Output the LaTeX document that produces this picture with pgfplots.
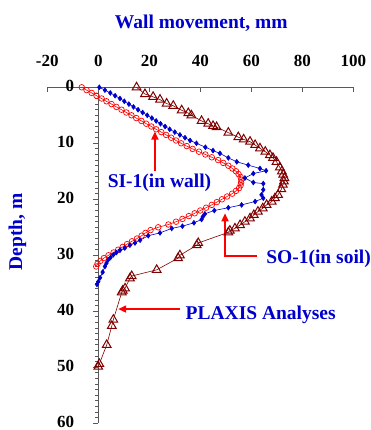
\documentclass[border=0pt]{standalone}
\usepackage{fontspec}
\setmainfont{Liberation Serif}
\usepackage{pgfplots}
\pgfplotsset{compat=1.18}
\usetikzlibrary{arrows.meta}
\definecolor{myblue}{RGB}{0,0,204}
\definecolor{mybrown}{RGB}{128,0,0}
\definecolor{myred}{RGB}{255,0,0}
\newcommand{\lab}{\fontsize{19.5bp}{20bp}\selectfont\bfseries}
\begin{document}
\begin{tikzpicture}
\begin{axis}[
  x=2.55bp, y=5.6bp, y dir=reverse,
  xmin=-20, xmax=100, ymin=0, ymax=60,
  axis x line=top, axis y line=middle,
  axis line style={-, line width=1bp, black!65},
  x axis line style={-}, y axis line style={-},
  xtick={-20,0,20,40,60,80,100}, ytick={0,10,20,30,40,50,60},
  minor y tick num=9,
  hide obscured x ticks=false, hide obscured y ticks=false,
  xtick align=inside, ytick align=outside,
  major tick length=5bp, minor tick length=3bp,
  tick style={black!65, line width=0.8bp},
  /pgf/number format/assume math mode=true,
  ticklabel style={font=\fontsize{17bp}{17bp}\selectfont\bfseries},
  xticklabel style={anchor=base, yshift=21bp},
  yticklabel style={anchor=east, inner sep=0pt, xshift=-19bp, yshift=1.5bp},
  clip=false,
]
\addplot[color=myred, line width=0.6bp, mark=o, mark size=2.8bp, mark options={line width=0.7bp}] table {
-6.5 0
-4.6 0.5
-2.6 1
-0.7 1.5
1.3 2
3.2 2.5
5.2 3
7.1 3.5
9.1 4
11 4.5
13 5
14.9 5.5
16.9 6
18.8 6.5
20.8 7
22.7 7.5
24.7 8
26.6 8.5
28.6 9
30.5 9.5
32.5 10
34.7 10.5
37 11
39.5 11.5
42 12
44.5 12.5
47 13
49 13.5
51 14
52.6 14.5
54 15
55 15.5
55.8 16
56.1 16.5
56 17
55.8 17.5
55.2 18
54 18.5
52.5 19
50.5 19.5
48.5 20
46.5 20.5
44.5 21
42.3 21.5
40 22
37.8 22.5
35.5 23
33 23.5
30.5 24
27.5 24.5
23.5 25
20.5 25.5
18.5 26
17 26.5
15.2 27
13.2 27.5
11.3 28
9.6 28.5
7.8 29
6 29.5
4 30
2.2 30.5
0.8 31
-0.3 31.5
-0.8 32
};
\addplot[color=myblue, line width=0.6bp, mark=diamond*, mark size=2.4bp] table {
0.4 0
2.6 0.5
4.7 1
6.6 1.5
8.5 2
10.2 2.5
12 3
13.8 3.5
15.6 4
17.4 4.5
19.2 5
21 5.5
22.7 6
24.4 6.5
26.2 7
28 7.5
30 8
32 8.5
34 9
36 9.5
38.5 10
42 10.7
45 11.3
47.7 11.8
51 12.6
54.3 13.3
58.8 13.9
63.4 14.5
65.8 14.9
60.8 15.4
57.5 16.2
60.8 17
64.7 17.2
64.7 18.3
64 19.2
64.7 19.8
61.5 20.4
56.2 21
51 21.5
45.5 22
41.8 22.6
41 23.1
40.5 23.6
37.5 24.2
33 24.8
28.8 25.2
24.2 26
19.6 26.5
16.4 27.3
14.4 27.8
12.4 28.2
10.4 28.7
8.5 29.1
7.1 29.5
5.9 29.9
4.8 30.4
3.9 30.8
3.2 31.4
2.6 32
1.7 33
0.7 34
0 34.7
-0.5 35.2
};
\addplot[color=mybrown, line width=0.6bp, mark=triangle, mark size=5bp, mark options={line width=1bp}] table {
15 0
18.3 1.2
21.5 1.7
24.2 2.2
26.8 2.9
29.4 3.3
32.7 4.1
35.3 4.6
36.5 5.0
40.5 6.0
43.1 6.5
45 6.9
46.4 7.1
51 8.1
54.9 8.9
57 9.3
59.5 9.7
61.5 10.3
63.4 10.9
65.5 11.5
67.3 12.1
68.5 12.6
69.9 13.3
71.2 14.3
72 15
72.5 15.6
73 16.2
72.8 16.8
72.4 17.4
71.8 18.2
70.5 19.2
69.3 19.8
68 20.4
66 21
64.5 21.6
62.6 22.2
61 22.8
59.5 23.4
57.5 24
55.6 24.6
53.6 25.2
51.6 25.6
51 25.9
39.2 27.8
38.6 28.2
32 30
31.3 30.5
22.9 32.6
13.1 33.7
12.4 34.1
10.5 35.9
9.6 36.3
9.2 36.6
5.9 41.5
5.3 42.6
3.3 46
0.4 49.4
0 49.9
};
\draw[myred, line width=1.6bp, -{Triangle[length=8bp,width=7bp]}] (axis cs:22.2,15.0) -- (axis cs:22.2,7.9);
\draw[myred, line width=1.6bp, -{Triangle[length=8bp,width=7bp]}] (axis cs:62.2,30.1) -- (axis cs:49.7,30.1) -- (axis cs:49.7,22.5);
\draw[myred, line width=1.6bp, -{Triangle[length=8bp,width=7bp]}] (axis cs:32,39.6) -- (axis cs:7.8,39.6);
\node[anchor=base, text=myblue, font=\lab, inner sep=0pt] at (axis cs:40.4,-10.5) {Wall movement, mm};
\node[anchor=base, text=myblue, font=\lab, inner sep=0pt, rotate=90] at (axis cs:-29.9,25.8) {Depth, m};
\node[anchor=base, text=myblue, font=\lab, inner sep=0pt] at (axis cs:24.0,17.9) {SI-1(in wall)};
\node[anchor=base, text=myblue, font=\lab, inner sep=0pt] at (axis cs:86.4,31.4) {SO-1(in soil)};
\node[anchor=base, text=myblue, font=\lab, inner sep=0pt] at (axis cs:63.7,41.55) {PLAXIS Analyses};
\coordinate (bbA) at (axis cs:-38.55,-15.59);
\coordinate (bbB) at (axis cs:106.94,61.2);
\end{axis}
\pgfresetboundingbox
\useasboundingbox (bbA) rectangle (bbB);
\end{tikzpicture}
\end{document}
